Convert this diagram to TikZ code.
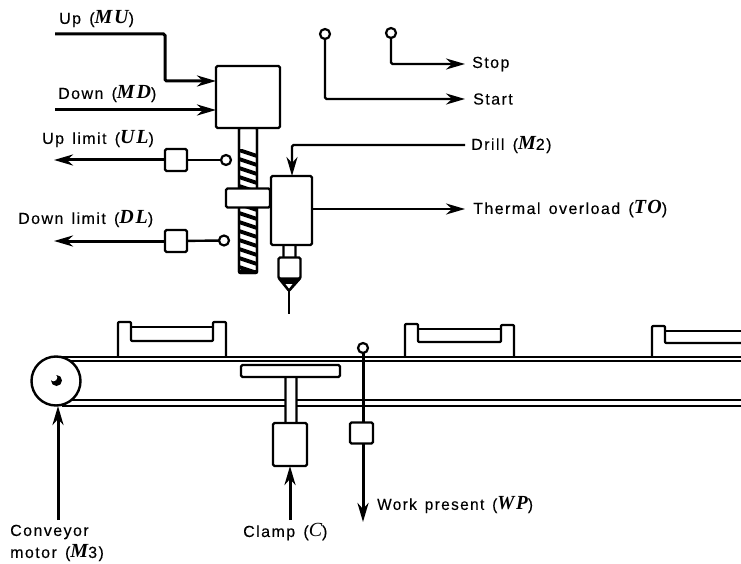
\documentclass[tikz,border=0pt]{standalone}
\usepackage{fontspec}
\setmainfont{Liberation Sans}[LetterSpace=9,WordSpace=1.4,FakeBold=0.25]
\newfontfamily\varfont{Liberation Serif}[Scale=1.25,LetterSpace=9]
\usetikzlibrary{arrows.meta}
\newcommand{\vv}[1]{{\varfont\bfseries\itshape #1}}
\newcommand{\vl}[1]{{\varfont\itshape #1}}
\tikzset{
  part/.style={draw=black,fill=white,line width=2.3pt,rounded corners=1.5pt,inner sep=0pt,outer sep=0pt},
  sensorbox/.style={part,minimum width=22pt,minimum height=22pt},
  contact/.style={circle,draw=black,fill=white,line width=2.2pt,minimum size=10pt,inner sep=0pt,outer sep=0pt},
  lab/.style={anchor=west,inner sep=0pt,font=\fontsize{16pt}{19pt}\selectfont,text=black},
  sig/.style={draw=black,line width=3pt,-{Stealth[length=19pt,width=11pt,inset=6pt]},rounded corners=1.5pt},
  thin sig/.style={draw=black,line width=2.4pt,rounded corners=1.5pt},
  thin arrow/.style={thin sig,-{Stealth[length=19pt,width=11pt,inset=6pt]}},
  outline/.style={draw=black,line width=2.2pt,line join=round,rounded corners=1pt},
  belt/.style={draw=black,line width=2pt},
}
\begin{document}
\begin{tikzpicture}[x=1pt,y=-1pt]
\useasboundingbox (0,0) rectangle (741,564);
\fill[white] (0,0) rectangle (741,564);

% ---- lead screw
\draw[outline,fill=white] (239,128) rectangle (257,273);
\begin{scope}
  \clip (239,150) rectangle (257,273);
  \foreach \y in {150,159,...,276} {
    \draw[black,line width=3.8pt] (236,\y-1) -- (260,\y+7);
  }
\end{scope}
\draw[outline] (239,128) -- (239,273) -- (257,273) -- (257,128);
\fill[black] (239,270) rectangle (257,274);

% ---- drive motor
\node[part,minimum width=64pt,minimum height=62pt] (drive) at (248,97) {};

% ---- drill head
\node[part,minimum width=44pt,minimum height=19pt] (collar) at (248,198) {};
\node[part,minimum width=12pt,minimum height=16pt] (shaft) at (289.5,252) {};
\node[part,minimum width=41pt,minimum height=69pt] (drillhead) at (291.5,210.5) {};
\coordinate (tip) at (289,290);
\coordinate (bit) at (289,314);
\draw[outline,fill=white] (278.5,278) -- (289,291) -- (300.5,278);
\fill[black] (279,279) -- (299,279) -- (289,291) -- cycle;
\fill[white] (285.5,284) -- (292.5,284) -- (289,288.5) -- cycle;
\node[part,minimum width=22pt,minimum height=21pt] (chuck) at (289.5,268) {};
\draw[black,line width=2.6pt] (tip) -- (bit);

% ---- motor inputs
\coordinate (muS) at (55,34);
\coordinate (mdS) at (55,110);
\draw[sig] (muS) -| (165,81) -- (drive.west |- 0,81);
\draw[sig] (mdS) -- (drive.west |- mdS);
\node[lab] (mu) at (59,19) {Up (\vv{MU})};
\node[lab] (md) at (58,94) {Down (\vv{MD})};

% ---- limit switches
\node[sensorbox] (ulbox) at (176,160) {};
\node[contact] (ulc) at (226,160) {};
\coordinate (ulE) at (54,160);
\draw[thin sig] (ulbox) -- (ulc);
\draw[sig] (ulbox) -- (ulE);
\node[lab] (ul) at (42,139) {Up limit (\vv{UL})};

\node[sensorbox] (dlbox) at (176,241) {};
\node[contact] (dlc) at (224,240.5) {};
\coordinate (dlE) at (54,241);
\draw[thin sig] (dlbox) -- (dlc);
\draw[sig] (dlbox) -- (dlE);
\node[lab] (dl) at (18,219) {Down limit (\vv{DL})};

% ---- start / stop
\node[contact] (startc) at (325,34) {};
\node[contact] (stopc) at (391,33) {};
\coordinate (startE) at (465,99);
\coordinate (stopE) at (465,64);
\draw[thin arrow] (startc) |- (startE);
\draw[thin arrow] (stopc) |- (stopE);
\node[lab] (stop) at (472,64) {Stop};
\node[lab] (start) at (473,99) {Start};

% ---- drill, thermal
\coordinate (drillE) at (465,145);
\draw[thin arrow] (drillE) -| (292,176);
\node[lab] (drill) at (471,145) {Drill (\vv{M}2)};
\coordinate (toE) at (465,209);
\draw[thin arrow] (drillhead.east |- toE) -- (toE);
\node[lab] (to) at (473,209) {Thermal overload (\vv{TO})};

% ---- work pallets
\draw[outline] (118,356) -- (118,322) -- (131,322) -- (131,341) -- (213,341) -- (213,322) -- (226,322) -- (226,356);
\draw[outline] (131,327) -- (213,327);
\draw[outline] (405,356) -- (405,324) -- (418,324) -- (418,342) -- (501,342) -- (501,325) -- (514,325) -- (514,356);
\draw[outline] (418,329) -- (501,329);
\draw[outline] (652,356) -- (652,326) -- (665,326) -- (665,343) -- (741,343);
\draw[outline] (665,331) -- (741,331);

% ---- belt
\draw[belt] (56,356.5) -- (741,356.5);
\draw[belt] (70,361) -- (741,361);
\draw[belt] (70,400) -- (741,400);
\draw[belt] (62,405.5) -- (741,405.5);

% ---- pulley
\node[circle,draw=black,fill=white,line width=2.4pt,minimum size=49pt,inner sep=0pt,outer sep=0pt] (pulley) at (56,381) {};
\fill[black] (56.5,380.5) circle[radius=5.5pt];
\fill[white] (53.5,377.5) circle[radius=3.8pt];
\coordinate (m3S) at (58,520);
\draw[sig] (m3S) -- (58,406);
\node[lab] (m3a) at (10,532) {Conveyor};
\node[lab] (m3b) at (10,553) {motor (\vv{M}3)};

% ---- clamp
\node[part,minimum width=11pt,minimum height=50pt,fill=white] (cshaft) at (291,400) {};
\node[part,minimum width=99pt,minimum height=12pt] (plate) at (290.5,371) {};
\node[part,minimum width=34pt,minimum height=43pt] (clampbox) at (290,444.5) {};
\coordinate (cS) at (290,520);
\draw[sig] (cS) -- (clampbox.south);
\node[lab] (clamp) at (243,532) {Clamp (\vl{C})};

% ---- work present
\node[contact] (wpc) at (363,348) {};
\node[sensorbox,minimum width=23pt,minimum height=21pt] (wpbox) at (361.5,433) {};
\coordinate (wpE) at (363,522);
\draw[black,line width=3pt] (wpc) -- (wpbox.north -| wpc);
\draw[sig] (wpbox.south -| wpE) -- (wpE);
\node[lab,xscale=0.96] (wp) at (377,505) {Work present (\vv{WP})};
\end{tikzpicture}
\end{document}
